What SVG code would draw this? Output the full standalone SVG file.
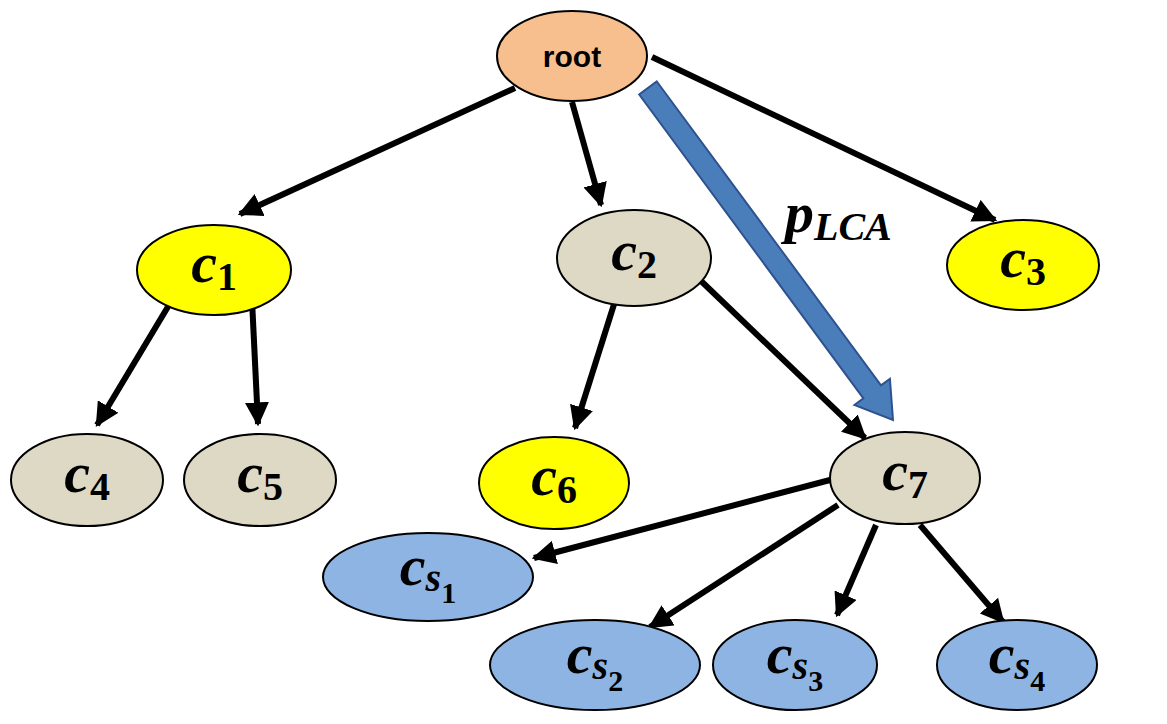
<svg xmlns="http://www.w3.org/2000/svg" width="1167" height="724" viewBox="0 0 1167 724">
<defs>
<marker id="ah" viewBox="0 0 10 10" refX="9" refY="5" markerWidth="4" markerHeight="4" orient="auto" markerUnits="strokeWidth"><path d="M0,0 L10,5 L0,10 z" fill="#000"/></marker>
</defs>
<style>
.n{stroke:#000;stroke-width:2}
.y{fill:#FFFF00}.g{fill:#DDD9C4}.b{fill:#8EB4E3}.o{fill:#F8BF8E}
.t{font-family:"Liberation Serif",serif;font-weight:bold;font-style:italic;font-size:58px;text-anchor:middle}
.s{font-size:40px}
.d{font-style:normal;font-size:40px}
.d2{font-style:normal;font-size:30px}
.e{stroke:#000;stroke-width:6;fill:none;marker-end:url(#ah)}
</style>
<rect width="1167" height="724" fill="#fff"/>
<g id="connectors">
<line class="e" x1="515" y1="88" x2="240" y2="214"/>
<line class="e" x1="572" y1="102" x2="601" y2="205"/>
<line class="e" x1="652" y1="57" x2="995" y2="220"/>
<line class="e" x1="172" y1="300" x2="97" y2="425"/>
<line class="e" x1="252" y1="300" x2="258" y2="424"/>
<line class="e" x1="616" y1="298" x2="575" y2="428"/>
<line class="e" x1="700" y1="280" x2="865" y2="438"/>
<line class="e" x1="830" y1="480" x2="534" y2="558"/>
<line class="e" x1="838" y1="505" x2="650" y2="627"/>
<line class="e" x1="876" y1="525" x2="837" y2="615"/>
<line class="e" x1="920" y1="525" x2="1003" y2="622"/>
<polygon points="656.8,81.5 881,385.4 889.9,378.9 893,420 854.5,404.9 863.4,398.4 639.2,94.5" fill="#4A7EBB" stroke="#2F528F" stroke-width="2"/>
<text x="785" y="232" class="t" text-anchor="start" style="text-anchor:start">p<tspan class="s" dy="8">LCA</tspan></text>
</g>
<g id="root"><ellipse class="n o" cx="572" cy="56" rx="75" ry="45"/><text x="572" y="67" font-family="Liberation Sans,sans-serif" font-weight="bold" font-size="30" text-anchor="middle">root</text></g>
<g id="c1"><ellipse class="n y" cx="214" cy="270" rx="77" ry="45"/><text x="214" y="282" class="t">c<tspan class="d" dy="8">1</tspan></text></g>
<g id="c2"><ellipse class="n g" cx="634" cy="258" rx="77" ry="48"/><text x="634" y="270" class="t">c<tspan class="d" dy="8">2</tspan></text></g>
<g id="c3"><ellipse class="n y" cx="1023" cy="265" rx="76" ry="45"/><text x="1023" y="277" class="t">c<tspan class="d" dy="8">3</tspan></text></g>
<g id="c4"><ellipse class="n g" cx="87" cy="480" rx="76" ry="46"/><text x="87" y="492" class="t">c<tspan class="d" dy="8">4</tspan></text></g>
<g id="c5"><ellipse class="n g" cx="260" cy="480" rx="76" ry="46"/><text x="260" y="492" class="t">c<tspan class="d" dy="8">5</tspan></text></g>
<g id="c6"><ellipse class="n y" cx="554" cy="483" rx="75" ry="46"/><text x="554" y="495" class="t">c<tspan class="d" dy="8">6</tspan></text></g>
<g id="c7"><ellipse class="n g" cx="905" cy="478" rx="75" ry="46"/><text x="905" y="490" class="t">c<tspan class="d" dy="8">7</tspan></text></g>
<g id="cs1"><ellipse class="n b" cx="428" cy="577" rx="105" ry="44"/><text x="428" y="585" class="t">c<tspan class="s" dy="6">s</tspan><tspan class="d2" dy="12">1</tspan></text></g>
<g id="cs2"><ellipse class="n b" cx="595" cy="665" rx="105" ry="45"/><text x="595" y="673" class="t">c<tspan class="s" dy="6">s</tspan><tspan class="d2" dy="12">2</tspan></text></g>
<g id="cs3"><ellipse class="n b" cx="795" cy="665" rx="82" ry="45"/><text x="795" y="673" class="t">c<tspan class="s" dy="6">s</tspan><tspan class="d2" dy="12">3</tspan></text></g>
<g id="cs4"><ellipse class="n b" cx="1017" cy="665" rx="80" ry="45"/><text x="1017" y="673" class="t">c<tspan class="s" dy="6">s</tspan><tspan class="d2" dy="12">4</tspan></text></g>
</svg>
